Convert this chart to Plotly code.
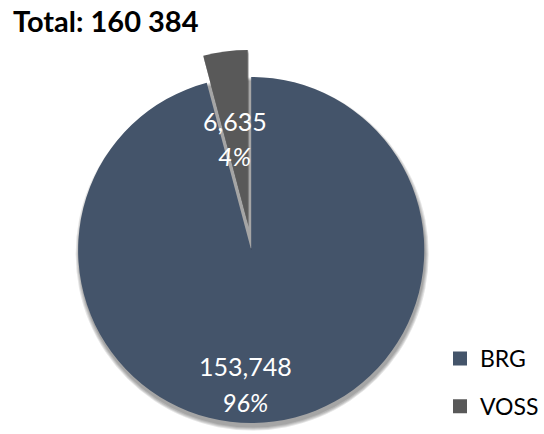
import math
import plotly.graph_objects as go

# --- data -------------------------------------------------------------
labels = ["BRG", "VOSS"]
values = [153748, 6635]
colors = ["#44546A", "#595959"]
total_text = "Total: 160 384"

# --- geometry / style -------------------------------------------------
W, H = 544, 434
CX, CY, R = 254, 250, 175          # pie centre and radius in px
PULL = 0.155                        # explode distance of the small slice (fraction of R)
FONT = "Lato"
CLEAR = "rgba(0,0,0,0)"
SHADOW = "rgba(0,0,0,0.1)"


def dom(cx, cy, r):
    """Pie domain (paper coords) for a pie of radius r centred at pixel (cx, cy)."""
    return dict(x=[(cx - r) / W, (cx + r) / W],
                y=[1 - (cy + r) / H, 1 - (cy - r) / H])


total = sum(values)
shares = [v / total for v in values]
# bisector of the exploded slice, measured clockwise from 12 o'clock
mid = 2 * math.pi * (shares[0] + shares[1] / 2)
ox = R * PULL * math.sin(mid)
oy = -R * PULL * math.cos(mid)

common = dict(sort=False, direction="clockwise", textinfo="none",
              hoverinfo="skip", showlegend=False)

fig = go.Figure()

# legend entries (one group per label so the gap between them can be set)
for i, lab in enumerate(labels):
    fig.add_trace(go.Pie(labels=[lab], values=[values[i]],
                         marker=dict(colors=[colors[i]], line=dict(color=colors[i], width=2)),
                         sort=False, textinfo="none", hoverinfo="skip",
                         showlegend=True, legendgroup=f"g{i}",
                         domain=dom(CX, CY, 0.5)))

# soft drop shadow under the pie
for k in range(4):
    fig.add_trace(go.Pie(labels=labels, values=[total, 0],
                         marker=dict(colors=[SHADOW, CLEAR]),
                         domain=dom(CX + 1, CY + 4, R + 0.5 + k), **common))
# shadow of the exploded slice
for k in range(4):
    fig.add_trace(go.Pie(labels=labels, values=values,
                         marker=dict(colors=[CLEAR, SHADOW]),
                         domain=dom(CX + ox + 1, CY + oy + 4, R + 0.5 + k), **common))

# main body: BRG slice
fig.add_trace(go.Pie(labels=labels, values=values,
                     marker=dict(colors=[colors[0], CLEAR]),
                     domain=dom(CX, CY, R), **common))
# exploded VOSS slice
fig.add_trace(go.Pie(labels=labels, values=values,
                     marker=dict(colors=[CLEAR, colors[1]]),
                     domain=dom(CX + ox, CY + oy, R), **common))

# data labels
label_pos = {"BRG": [(248, 366), (248, 402)], "VOSS": [(237.5, 121), (237.5, 156)]}
annotations = []
for lab, v, s in zip(labels, values, shares):
    (x1, y1), (x2, y2) = label_pos[lab]
    annotations.append(dict(text=f"{v:,}", x=x1 / W, y=1 - y1 / H, xref="paper", yref="paper",
                            showarrow=False, xanchor="center", yanchor="middle",
                            font=dict(family=FONT, size=25, color="white")))
    annotations.append(dict(text=f"<i>{round(s * 100)}%</i>", x=x2 / W, y=1 - y2 / H,
                            xref="paper", yref="paper", showarrow=False,
                            xanchor="center", yanchor="middle",
                            font=dict(family=FONT, size=25, color="white")))

fig.update_layout(
    width=W, height=H,
    margin=dict(l=0, r=0, t=0, b=0),
    paper_bgcolor="white", plot_bgcolor="white",
    title=dict(text=f"<b>{total_text}</b>", x=13 / W, xanchor="left",
               y=1 - 22 / H, yanchor="middle",
               font=dict(family=FONT, size=29, color="black")),
    legend=dict(x=445 / W, y=1 - 337 / H, xanchor="left", yanchor="top",
                font=dict(family=FONT, size=23, color="black"),
                traceorder="grouped", tracegroupgap=15,
                bgcolor="rgba(0,0,0,0)"),
    annotations=annotations,
)

fig.write_html("out.html")
